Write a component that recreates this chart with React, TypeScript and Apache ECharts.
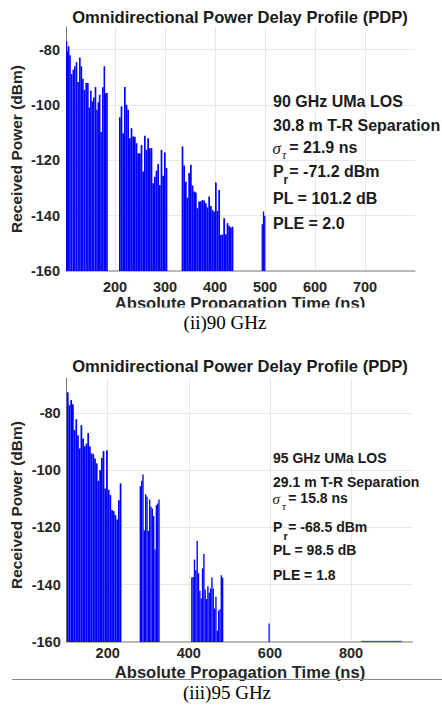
import React, { useEffect, useRef } from 'react';
import * as echarts from 'echarts';

const FLOOR = -160;
const SANS = "'Liberation Sans', Arial, Helvetica, sans-serif";
const SERIF = "'Liberation Serif', 'Times New Roman', serif";

// ---------- 90 GHz (top) ----------
const T90_C1 = [103.0, 105.0, 107.3, 110.0, 113.4, 116.7, 119.7, 123.0, 126.3, 129.7, 132.7, 135.7, 139.0, 142.3, 145.7, 148.7, 151.7, 154.7, 157.7, 161.0, 164.0, 166.7, 169.3, 172.3, 175.7, 178.7, 181.3, 184.0];
const P90_C1 = [-77, -80.6, -78.8, -82, -88.8, -87.2, -86, -84.5, -91.7, -82.8, -86, -90.5, -94.5, -92, -92, -100.9, -94.8, -98.7, -97.3, -93.5, -101.7, -99, -96.3, -109.8, -93.6, -86, -95.7, -95.7];
const T90_C2 = [209.7, 213.0, 216.3, 219.7, 223.0, 226.3, 229.7, 233.0, 236.3, 239.7, 243.0, 246.3, 249.7, 253.0, 256.3, 259.7, 263.0, 266.3, 269.7, 273.0, 276.3, 279.7, 283.0, 286.3, 289.7, 293.0, 296.3, 299.7, 303.0];
const P90_C2 = [-104.4, -100.5, -110.2, -93.5, -99.9, -101.7, -112, -108.4, -111.4, -111.5, -113.8, -117.4, -117.4, -114.5, -124, -111.1, -116.2, -112, -115.6, -115.6, -128.3, -125.9, -123.7, -121.3, -128.9, -116.2, -125.6, -117.2, -122.8];
const T90_C3 = [335.0, 338.3, 341.7, 345.0, 348.3, 351.7, 355.0, 358.3, 361.7, 365.0, 368.3, 371.7, 375.0, 378.3, 381.7, 385.0, 388.3, 391.7, 395.0, 398.3, 401.7, 405.0, 408.3, 411.7, 415.0, 418.3, 421.7, 425.0, 428.3, 431.7, 435.0];
const P90_C3 = [-115, -121.9, -127.7, -133.5, -124.6, -121.6, -129.1, -131.3, -131.6, -137.3, -134.9, -134.8, -134.3, -134.5, -135.5, -137, -133.1, -136.5, -137.9, -138.5, -128, -138.3, -130.7, -147, -146.8, -140.9, -146.7, -142.7, -143.6, -144.3, -144];
const T90_C4 = [494.5, 497.0, 499.5];
const P90_C4 = [-143.1, -138.5, -140];

const X90_TICKS = [200, 300, 400, 500, 600, 700];
const Y_TICKS = [-160, -140, -120, -100, -80];

const INFO90 = ['90 GHz UMa LOS', '30.8 m T-R Separation', '= 21.9 ns', '= -71.2 dBm', 'PL = 101.2 dB', 'PLE = 2.0'];

// ---------- 95 GHz (bottom) ----------
const T95_C1 = [101.6, 105.8, 110.0, 114.2, 118.4, 122.6, 126.8, 131.0, 135.2, 139.4, 143.6, 147.8, 152.0, 156.2, 160.4, 164.6, 168.8, 173.0, 177.2, 181.4, 185.6, 189.8, 194.0, 198.2, 202.4, 206.6, 210.8, 215.0, 219.2, 223.4, 227.6, 231.8];
const P95_C1 = [-72.8, -77.3, -75.5, -77, -86, -82.2, -87.8, -92.4, -84.3, -88.9, -91.6, -90.7, -87, -91.7, -94.1, -94.4, -95.9, -97.6, -103.7, -100, -95.7, -93.3, -106.4, -93, -106.8, -108.7, -113.9, -114.3, -115.7, -117.2, -110.5, -104.6];
const T95_C2 = [280.5, 283.8, 287.1, 290.4, 293.7, 297.0, 300.3, 303.6, 306.9, 310.2, 313.5, 316.8, 320.1, 323.4, 326.5];
const P95_C2 = [-105.6, -103.7, -101.5, -121, -108.4, -109.3, -121.2, -110.2, -112.8, -113.4, -116, -127.7, -112.2, -111.6, -110.2];
const T95_C3 = [407.5, 410.8, 414.1, 417.4, 420.7, 424.0, 427.3, 430.6, 433.9, 437.2, 440.5, 443.8, 447.1, 450.4, 453.7, 457.0, 460.3, 463.6, 466.9, 470.2, 473.5, 476.8, 480.1, 483.4];
const P95_C3 = [-137.5, -137.3, -131.2, -134.9, -124.7, -136, -142.1, -144.8, -134.3, -129.3, -141.7, -145, -140.5, -142.8, -141.3, -137.5, -141.3, -148.3, -144.2, -156.1, -149.1, -148.6, -136.7, -137.5];
const T95_C4 = [598];
const P95_C4 = [-153.5];
const T95_C5 = [830, 840, 850, 860, 870, 880, 890, 900, 910, 920];
const P95_C5 = [-159.6, -159.6, -159.6, -159.6, -159.6, -159.6, -159.6, -159.6, -159.6, -159.6];

const X95_TICKS = [200, 400, 600, 800];

const INFO95 = ['95 GHz UMa LOS', '29.1 m T-R Separation', '= 15.8 ns', '= -68.5 dBm', 'PL = 98.5 dB', 'PLE = 1.8'];

function bars(times: number[], powers: number[], width: number, gi: number, color = '#0000ff') {
  return {
    type: 'custom',
    xAxisIndex: gi,
    yAxisIndex: gi,
    clip: true,
    silent: true,
    data: times.map((t, i) => [t, powers[i]]),
    renderItem: (params: any, api: any) => {
      const t = api.value(0);
      const p = api.value(1);
      const top = api.coord([t, p]);
      const base = api.coord([t, FLOOR]);
      const w = api.size([width, 0])[0];
      return {
        type: 'rect',
        shape: { x: top[0] - w / 2, y: top[1], width: w, height: base[1] - top[1] },
        style: { fill: color },
      };
    },
  };
}

function xAxis(gi: number, min: number, max: number, ticks: number[], margin: number) {
  return {
    gridIndex: gi,
    type: 'value',
    min,
    max,
    axisLine: { show: true, onZero: false, lineStyle: { color: '#a6a6a6', width: 1.5 } },
    axisTick: { show: false, customValues: ticks },
    axisLabel: { customValues: ticks, fontFamily: SANS, fontWeight: 'bold', fontSize: 14.5, color: '#262626', margin },
    splitLine: { show: true, lineStyle: { color: '#e8e8e8', width: 1 } },
  };
}

function yAxis(gi: number, max: number) {
  return {
    gridIndex: gi,
    type: 'value',
    min: FLOOR,
    max,
    axisLine: { show: true, onZero: false, lineStyle: { color: '#777777', width: 1 } },
    axisTick: { show: false, customValues: Y_TICKS },
    axisLabel: { customValues: Y_TICKS, fontFamily: SANS, fontWeight: 'bold', fontSize: 14.5, color: '#262626', margin: 6 },
    splitLine: { show: true, lineStyle: { color: '#e8e8e8', width: 1 } },
  };
}

function txt(x: number, y: number, text: string, size: number, opts: any = {}) {
  return {
    type: 'text',
    x,
    y,
    z: 100,
    rotation: opts.rotation || 0,
    style: {
      text,
      font: `${opts.italic ? 'italic ' : ''}${opts.bold === false ? 'normal' : 'bold'} ${size}px ${opts.family || SANS}`,
      fill: opts.color || '#1a1a1a',
      align: opts.align || 'left',
      verticalAlign: 'middle',
    },
  };
}

function infoBlock(info: string[], x: number, ys: number[], size: number, sub: number, subOff: number, valX: number) {
  return [
    txt(x, ys[0], info[0], size),
    txt(x, ys[1], info[1], size),
    txt(x - 0.5, ys[2] + 1, '\u03c3', size + 1, { italic: true, bold: false, family: SERIF }),
    txt(x + 9, ys[2] + subOff, '\u03c4', sub, { italic: true, bold: false, family: SERIF }),
    txt(valX, ys[2], info[2], size),
    txt(x, ys[3], 'P', size),
    txt(x + 10.5, ys[3] + subOff + 1, 'r', sub),
    txt(valX, ys[3], info[3], size),
    txt(x, ys[4], info[4], size),
    txt(x, ys[5], info[5], size),
  ];
}

export default function App() {
  const ref = useRef<HTMLDivElement>(null);
  useEffect(() => {
    if (!ref.current) return;
    const chart = echarts.init(ref.current, undefined, { renderer: 'svg' });
    chart.setOption({
      animation: false,
      backgroundColor: '#ffffff',
      grid: [
        { left: 66, top: 27, width: 349, height: 244, containLabel: false },
        { left: 66.7, top: 378, width: 345.6, height: 264, containLabel: false },
      ],
      xAxis: [xAxis(0, 102, 800, X90_TICKS, 8), xAxis(1, 99, 951, X95_TICKS, 3)],
      yAxis: [yAxis(0, -71.8), yAxis(1, -67.8)],
      series: [
        bars(T90_C1, P90_C1, 3.2, 0),
        bars(T90_C2, P90_C2, 3.4, 0),
        bars(T90_C3, P90_C3, 3.4, 0),
        bars(T90_C4, P90_C4, 2.6, 0),
        bars(T95_C1, P95_C1, 4.3, 1),
        bars(T95_C2, P95_C2, 3.35, 1),
        bars(T95_C3, P95_C3, 3.35, 1),
        bars(T95_C4, P95_C4, 3.0, 1),
        bars(T95_C5, P95_C5, 10, 1, '#3a3aff'),
      ],
      graphic: [
        txt(240, 17, 'Omnidirectional Power Delay Profile (PDP)', 16.6, { align: 'center' }),
        txt(16, 149, 'Received Power (dBm)', 15.5, { align: 'center', rotation: Math.PI / 2, color: '#262626' }),
        txt(240, 303.5, 'Absolute Propagation Time (ns)', 16.6, { align: 'center', color: '#262626' }),
        { type: 'rect', z: 101, shape: { x: 0, y: 307.5, width: 442, height: 30 }, style: { fill: '#ffffff' } },
        { ...txt(225, 322.5, '(ii)90 GHz', 19, { align: 'center', bold: false, family: SERIF, color: '#000' }), z: 102 },
        ...infoBlock(INFO90, 273, [101.7, 125.8, 147, 171.3, 198.3, 223], 16, 12, 8, 289.3),

        txt(240, 366, 'Omnidirectional Power Delay Profile (PDP)', 16.6, { align: 'center' }),
        txt(16, 505, 'Received Power (dBm)', 15.5, { align: 'center', rotation: Math.PI / 2, color: '#262626' }),
        txt(240, 672, 'Absolute Propagation Time (ns)', 16.6, { align: 'center', color: '#262626' }),
        { type: 'line', z: 101, shape: { x1: 12, y1: 679.5, x2: 442, y2: 679.5 }, style: { stroke: '#8a8a8a', lineWidth: 1 } },
        { ...txt(227, 692.5, '(iii)95 GHz', 19, { align: 'center', bold: false, family: SERIF, color: '#000' }), z: 102 },
        ...infoBlock(INFO95, 273, [458, 482, 498, 527, 550, 575], 14, 11, 8, 288.3),
      ],
    });
    return () => chart.dispose();
  }, []);
  return <div ref={ref} style={{ position: 'absolute', left: 0, top: 0, width: 442, height: 715, background: '#fff' }} />;
}
